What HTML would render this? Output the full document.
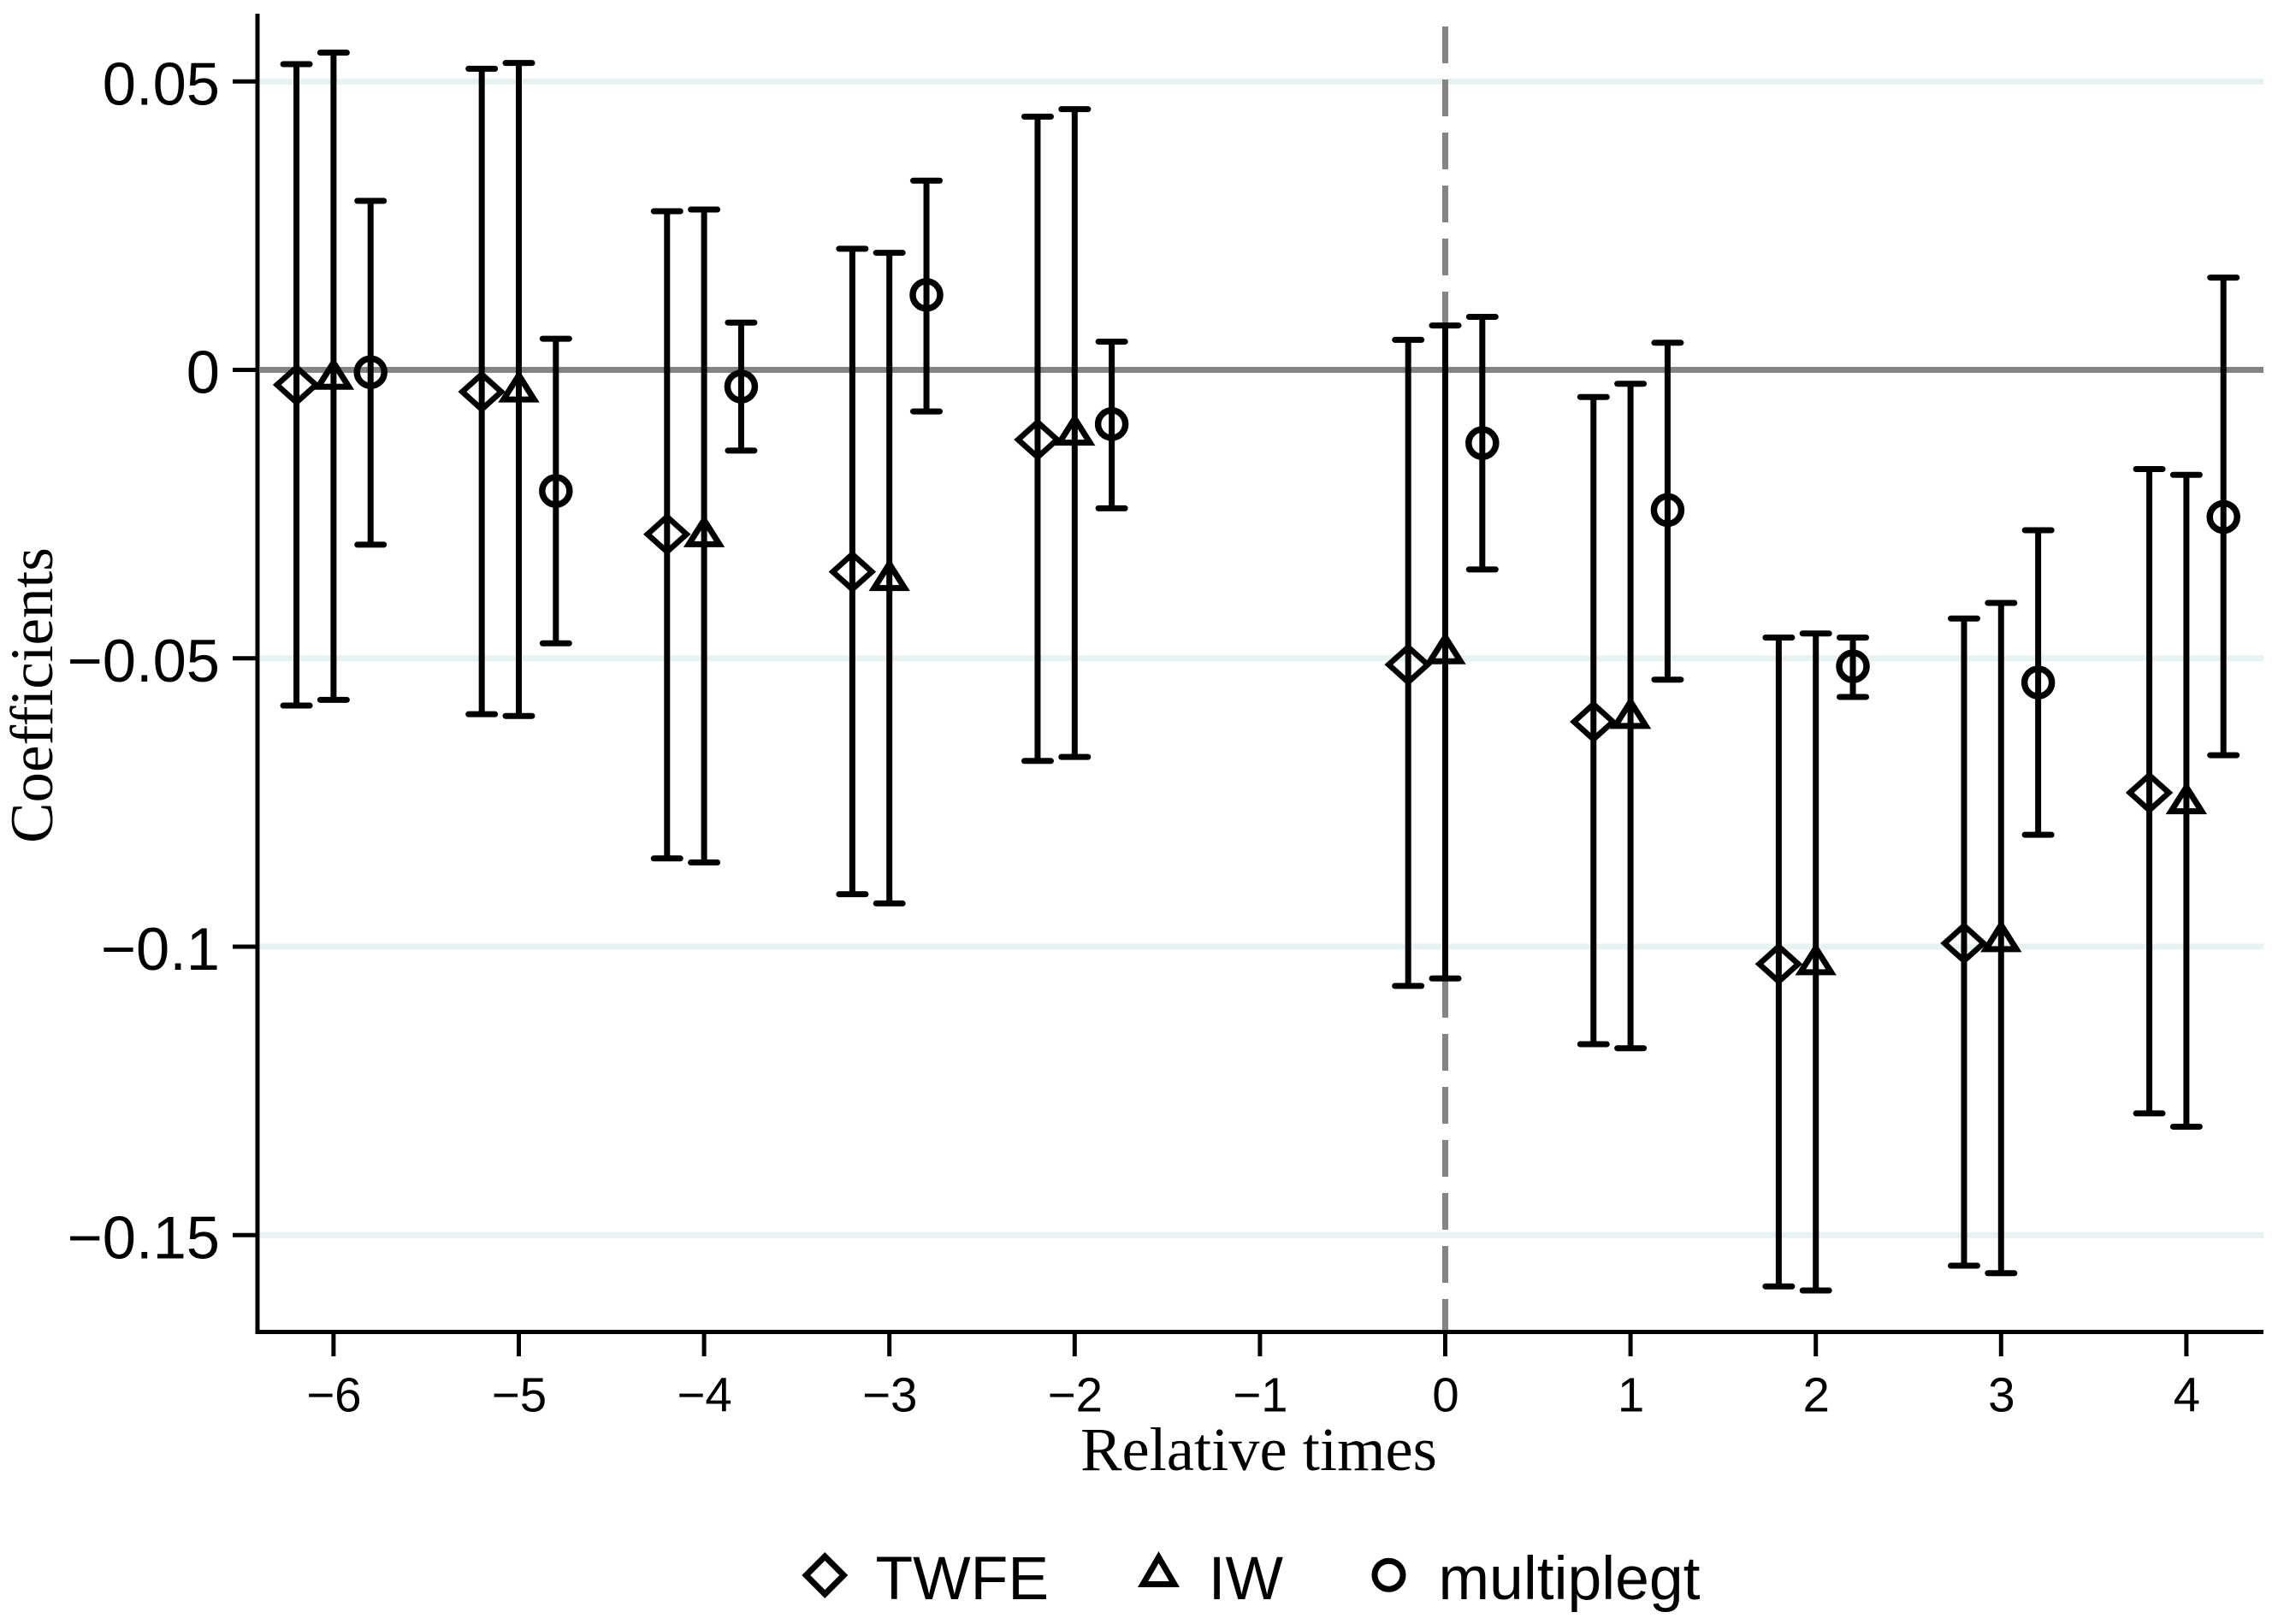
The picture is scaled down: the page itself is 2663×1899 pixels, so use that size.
<!DOCTYPE html>
<html lang="en">
<head>
<meta charset="utf-8">
<title>Coefficients by relative time</title>
<style>
  html, body { margin: 0; padding: 0; background: #fff; }
  svg { display: block; }
  .tick { font-family: "Liberation Sans", sans-serif; fill: #000; }
  .title { font-family: "Liberation Serif", serif; fill: #000; }
</style>
</head>
<body>
<svg id="chart" xmlns="http://www.w3.org/2000/svg" width="2663" height="1899" viewBox="0 0 2663 1899">
  <rect x="0" y="0" width="2663" height="1899" fill="#fff"/>
  <text class="title" transform="translate(61,813) rotate(-90)" text-anchor="middle" font-size="71">Coefficients</text>
  <text class="title" x="1471.5" y="1719" text-anchor="middle" font-size="72.5">Relative times</text>
  <g id="grid"></g>
  <g id="series"></g>
  <g id="axes"></g>
  <g>
    <g>
      <polygon points="964.3,1820 986.3,1842 964.3,1864 942.3,1842" fill="none" stroke="#000" stroke-width="7"/>
      <text class="tick" x="1023.5" y="1870" font-size="71.5">TWFE</text>
    </g>
    <g>
      <polygon points="1354.5,1821 1372.9,1852.5 1336.1,1852.5" fill="none" stroke="#000" stroke-width="7"/>
      <text class="tick" x="1412.6" y="1870" font-size="71.5">IW</text>
    </g>
    <g>
      <circle cx="1623.5" cy="1841.7" r="16.5" fill="none" stroke="#000" stroke-width="7"/>
      <text class="tick" x="1681.5" y="1870" font-size="71.5">multiplegt</text>
    </g>
  </g>
</svg>
<script>
const relativeTimes = [-6, -5, -4, -3, -2, 0, 1, 2, 3, 4];
const xTickValues = [-6, -5, -4, -3, -2, -1, 0, 1, 2, 3, 4];
const xTickLabels = ["\u22126", "\u22125", "\u22124", "\u22123", "\u22122", "\u22121", "0", "1", "2", "3", "4"];
const yTickValues = [0.05, 0, -0.05, -0.1, -0.15];
const yTickLabels = ["0.05", "0", "\u22120.05", "\u22120.1", "\u22120.15"];

const twfeCoef = [-0.0026, -0.0038, -0.0285, -0.0350, -0.0121, -0.0511, -0.0610, -0.1030, -0.0994, -0.0733];
const twfeUpper = [0.0530, 0.0522, 0.0275, 0.0210, 0.0439, 0.0052, -0.0047, -0.0464, -0.0431, -0.0172];
const twfeLower = [-0.0582, -0.0597, -0.0847, -0.0909, -0.0678, -0.1068, -0.1169, -0.1589, -0.1553, -0.1289];

const iwCoef = [-0.0006, -0.0028, -0.0279, -0.0355, -0.0103, -0.0482, -0.0594, -0.1021, -0.0981, -0.0742];
const iwUpper = [0.0550, 0.0532, 0.0278, 0.0203, 0.0452, 0.0077, -0.0024, -0.0457, -0.0404, -0.0182];
const iwLower = [-0.0572, -0.0600, -0.0854, -0.0925, -0.0671, -0.1055, -0.1176, -0.1596, -0.1566, -0.1312];

const multiplegtCoef = [-0.0004, -0.0210, -0.0029, 0.0130, -0.0094, -0.0127, -0.0243, -0.0514, -0.0542, -0.0255];
const multiplegtUpper = [0.0293, 0.0054, 0.0082, 0.0328, 0.0049, 0.0092, 0.0047, -0.0464, -0.0278, 0.0160];
const multiplegtLower = [-0.0303, -0.0474, -0.0140, -0.0072, -0.0240, -0.0346, -0.0537, -0.0567, -0.0806, -0.0668];

const NS = "http://www.w3.org/2000/svg";
function xScale(t) { return 1689.5 + t * 216.6; }
function yScale(v) { return 432.5 - v * 6745; }

function make(tag, attrs, parent) {
  const el = document.createElementNS(NS, tag);
  for (const k in attrs) el.setAttribute(k, attrs[k]);
  parent.appendChild(el);
  return el;
}

const gridLayer = document.getElementById("grid");
const seriesLayer = document.getElementById("series");
const axesLayer = document.getElementById("axes");
const PLOT_LEFT = 301, PLOT_RIGHT = 2646, PLOT_TOP = 16, PLOT_BOTTOM = 1557.5;

yTickValues.forEach(function (v) {
  const line = make("line", { x1: PLOT_LEFT + 3, x2: PLOT_RIGHT, y1: yScale(v), y2: yScale(v), stroke: v === 0 ? "#848484" : "#e7f2f2", "stroke-width": 7 }, gridLayer);
  
  
});

const refLine = make("line", { x1: xScale(0), x2: xScale(0), y1: 31, y2: PLOT_BOTTOM, stroke: "#848484", "stroke-width": 7, "stroke-dasharray": "43 19" }, gridLayer);



function drawMarker(kind, cx, cy, parent) {
  let m;
  if (kind === "diamond") {
    m = make("polygon", { points: [[cx, cy - 20.5], [cx + 22.8, cy], [cx, cy + 20.5], [cx - 22.8, cy]].join(" "), fill: "none", stroke: "#000", "stroke-width": 6.6 }, parent);
  } else if (kind === "triangle") {
    m = make("polygon", { points: [[cx, cy - 12.6], [cx + 17.85, cy + 15.7], [cx - 17.85, cy + 15.7]].join(" "), fill: "none", stroke: "#000", "stroke-width": 7 }, parent);
  } else {
    m = make("circle", { cx: cx, cy: cy, r: 16, fill: "none", stroke: "#000", "stroke-width": 7.5 }, parent);
  }
  return m;
}

function drawSeries(name, kind, offset, coef, upper, lower) {
  const group = make("g", {}, seriesLayer);
  
  
  relativeTimes.forEach(function (t, i) {
    const x = xScale(t + offset);
    const yU = yScale(upper[i]), yL = yScale(lower[i]), yC = yScale(coef[i]);
    const stem = make("line", { x1: x, x2: x, y1: yU, y2: yL, stroke: "#000", "stroke-width": 7 }, group);
    
    
    const capU = make("line", { x1: x - 15.5, x2: x + 15.5, y1: yU, y2: yU, stroke: "#000", "stroke-width": 7, "stroke-linecap": "round" }, group);
    
    
    const capL = make("line", { x1: x - 15.5, x2: x + 15.5, y1: yL, y2: yL, stroke: "#000", "stroke-width": 7, "stroke-linecap": "round" }, group);
    
    
    const marker = drawMarker(kind, x, yC, group);
    
    
  });
}

drawSeries("twfe", "diamond", -0.2, twfeCoef, twfeUpper, twfeLower);
drawSeries("iw", "triangle", 0, iwCoef, iwUpper, iwLower);
drawSeries("multiplegt", "circle", 0.2, multiplegtCoef, multiplegtUpper, multiplegtLower);

const yAxisLine = make("line", { x1: PLOT_LEFT, x2: PLOT_LEFT, y1: PLOT_TOP, y2: PLOT_BOTTOM + 2.5, stroke: "#000", "stroke-width": 5 }, axesLayer);


const xAxisLine = make("line", { x1: PLOT_LEFT - 2.5, x2: PLOT_RIGHT, y1: PLOT_BOTTOM, y2: PLOT_BOTTOM, stroke: "#000", "stroke-width": 5 }, axesLayer);



yTickValues.forEach(function (v, i) {
  const y = yScale(v);
  const mark = make("line", { x1: 272, x2: PLOT_LEFT, y1: y, y2: y, stroke: "#000", "stroke-width": 5 }, axesLayer);
  
  
  const label = make("text", { x: 257, y: y + 27, "text-anchor": "end", "font-size": 70.5, class: "tick" }, axesLayer);
  label.textContent = yTickLabels[i];
  
  
});

xTickValues.forEach(function (t, i) {
  const x = xScale(t);
  const mark = make("line", { x1: x, x2: x, y1: PLOT_BOTTOM, y2: 1586, stroke: "#000", "stroke-width": 5 }, axesLayer);
  
  
  const label = make("text", { x: x + 0.5, y: 1650.3, "text-anchor": "middle", "font-size": 56.5, class: "tick" }, axesLayer);
  label.textContent = xTickLabels[i];
  
  
});
</script>
</body>
</html>
